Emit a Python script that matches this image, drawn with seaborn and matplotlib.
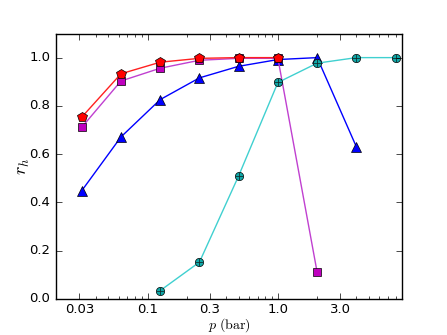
import numpy as np
import pandas as pd
import matplotlib
matplotlib.use('Agg')
import matplotlib.pyplot as plt
import matplotlib.ticker as mticker
import seaborn as sns

# data
p_red = [1/32, 1/16, 1/8, 1/4, 1/2, 1.0]
r_red = [0.753, 0.933, 0.981, 0.997, 1.0, 1.0]

p_mag = [1/32, 1/16, 1/8, 1/4, 1/2, 1.0, 2.0]
r_mag = [0.711, 0.903, 0.956, 0.989, 0.997, 0.997, 0.110]

p_blue = [1/32, 1/16, 1/8, 1/4, 1/2, 1.0, 2.0, 4.0]
r_blue = [0.448, 0.671, 0.826, 0.916, 0.964, 0.992, 1.0, 0.630]

p_cyan = [1/8, 1/4, 1/2, 1.0, 2.0, 4.0, 8.0]
r_cyan = [0.034, 0.152, 0.510, 0.897, 0.977, 1.0, 1.0]

xticks = [0.03, 0.1, 0.3, 1.0, 3.0]
xticklabels = ['0.03', '0.1', '0.3', '1.0', '3.0']

plt.style.use('classic')
plt.rcParams['mathtext.fontset'] = 'cm'
plt.rcParams['font.family'] = ['DejaVu Sans']

fig, ax = plt.subplots(figsize=(4.47, 3.35), dpi=100)
fig.patch.set_facecolor('white')
fig.subplots_adjust(left=0.125, right=0.9, bottom=0.108, top=0.9)

common = dict(ax=ax, linewidth=1.0, markeredgecolor='k',
              markeredgewidth=0.5, legend=False)

sns.lineplot(x=p_blue, y=r_blue, color='#0000ff', marker='^', markersize=6.5, **common)
sns.lineplot(x=p_mag, y=r_mag, color='#bf00bf', marker='s', markersize=5.5, **common)
ax.lines[-1].set_color('#c040d0')
ax.lines[-1].set_markerfacecolor('#bf00bf')
sns.lineplot(x=p_cyan, y=r_cyan, color='#40d0d0', marker='o', markersize=6, **common)
ax.lines[-1].set_markerfacecolor('#10a8a8')
ax.plot(p_cyan, r_cyan, linestyle='none', marker='+', color='#103030',
        markersize=6, markeredgewidth=0.6)
sns.lineplot(x=p_red, y=r_red, color='#ff2020', marker='p', markersize=7.5, **common)
ax.lines[-1].set_markerfacecolor('#ff0000')

ax.set_xscale('log')
ax.set_xlim(0.0198, 9.0)
ax.set_ylim(0.0, 1.1)
ax.set_xticks(xticks)
ax.set_xticklabels(xticklabels)
ax.xaxis.set_minor_locator(mticker.LogLocator(base=10, subs=np.arange(2, 10), numticks=20))
ax.xaxis.set_minor_formatter(mticker.NullFormatter())
ax.set_yticks([0.0, 0.2, 0.4, 0.6, 0.8, 1.0])
ax.tick_params(labelsize=9.5, direction='in')
ax.tick_params(axis='x', pad=3)
ax.tick_params(which='minor', length=2)

ax.set_xlabel(r'$p\ (\mathrm{bar})$', fontsize=10, labelpad=0)
ax.set_ylabel(r'$r_h$', fontsize=13, labelpad=-2)

fig.savefig('out.png', dpi=100, facecolor='white')
